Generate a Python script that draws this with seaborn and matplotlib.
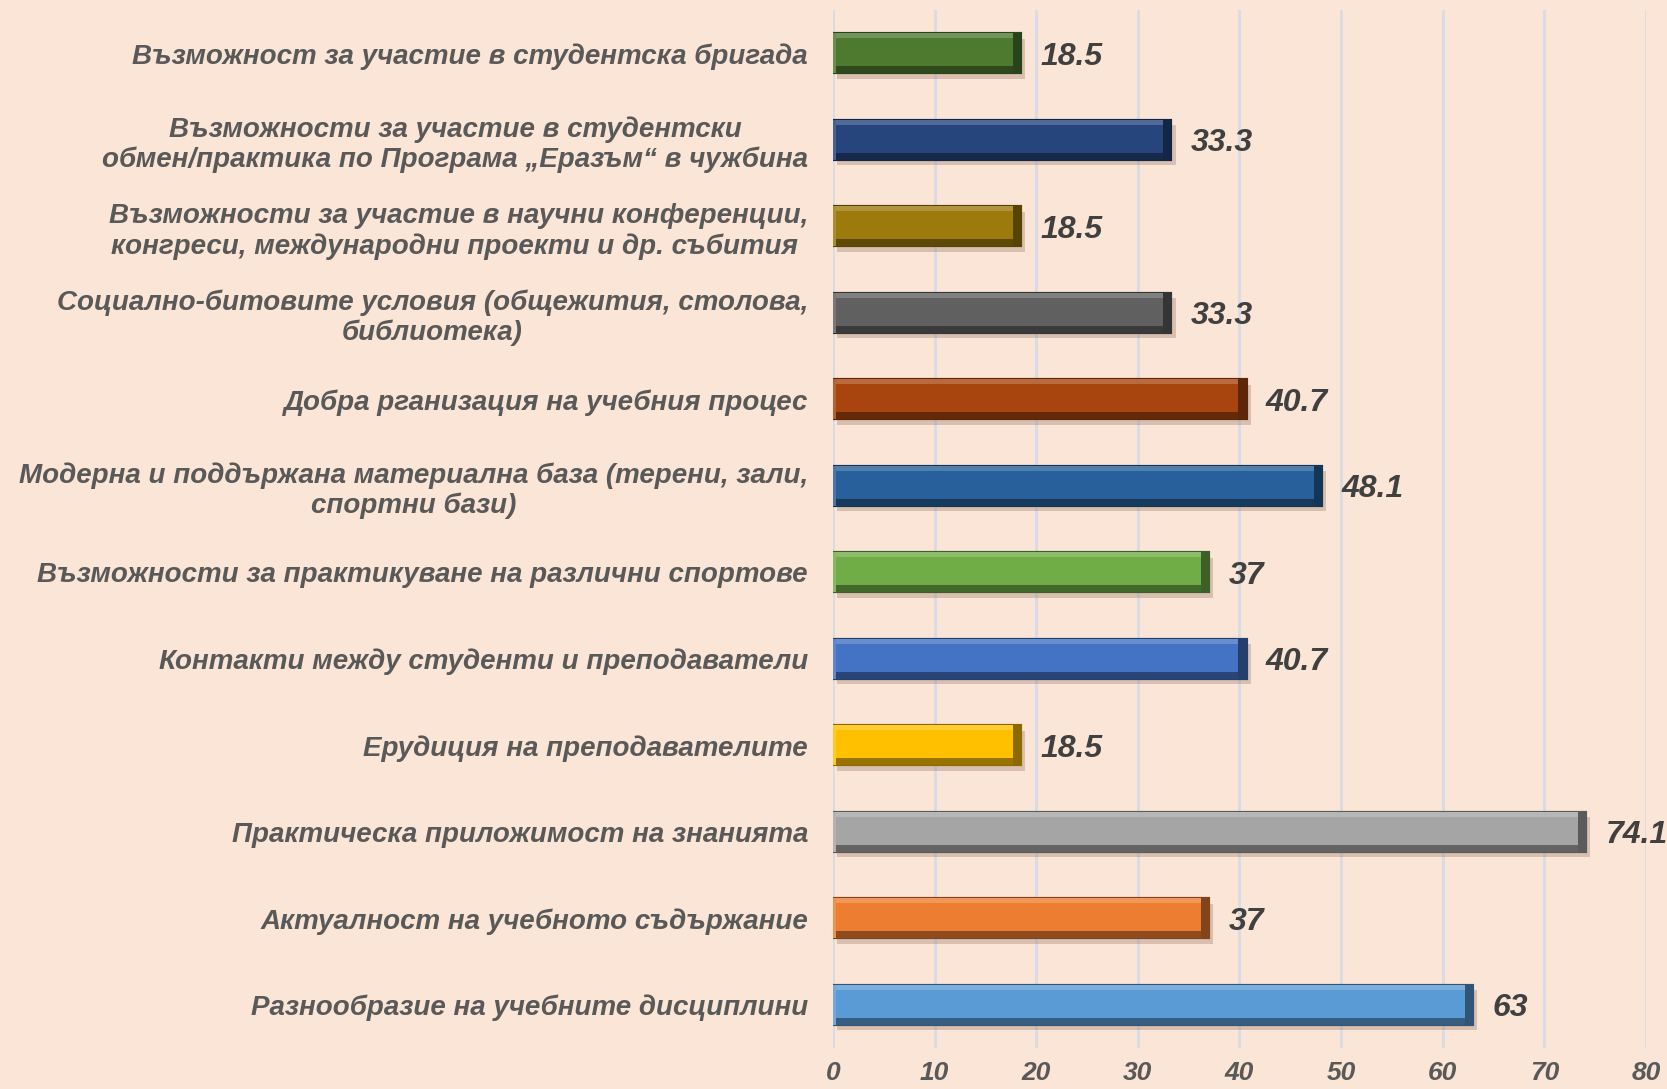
import seaborn as sns
import matplotlib.pyplot as plt
from matplotlib.patches import Rectangle
from matplotlib import patheffects
import matplotlib.colors as mcolors

categories = [
    "Възможност за участие в студентска бригада",
    "Възможности за участие в студентски\nобмен/практика по Програма „Еразъм“ в чужбина",
    "Възможности за участие в научни конференции,\nконгреси, международни проекти и др. събития ",
    "Социално-битовите условия (общежития, столова,\nбиблиотека)",
    "Добра рганизация на учебния процес",
    "Модерна и поддържана материална база (терени, зали,\nспортни бази)",
    "Възможности за практикуване на различни спортове",
    "Контакти между студенти и преподаватели",
    "Ерудиция на преподавателите",
    "Практическа приложимост на знанията",
    "Актуалност на учебното съдържание",
    "Разнообразие на учебните дисциплини",
]
values = [18.5, 33.3, 18.5, 33.3, 40.7, 48.1, 37, 40.7, 18.5, 74.1, 37, 63]
value_labels = ["18.5", "33.3", "18.5", "33.3", "40.7", "48.1", "37", "40.7", "18.5", "74.1", "37", "63"]
bar_colors = ["#4E7A30", "#27457D", "#9C7A0B", "#606060", "#A8450E", "#27609A",
              "#70AD47", "#4472C4", "#FFC000", "#A5A5A5", "#ED7D31", "#5B9BD5"]
x_ticks = [0, 10, 20, 30, 40, 50, 60, 70, 80]

BG = "#FBE5D6"


def shade(color, f):
    r, g, b = mcolors.to_rgb(color)
    if f < 1:
        return (r * f, g * f, b * f)
    t = f - 1
    return (r + (1 - r) * t, g + (1 - g) * t, b + (1 - b) * t)


def main():
    sns.set_style("white")
    plt.rcParams['font.family'] = ['Liberation Sans', 'DejaVu Sans']

    fig = plt.figure(figsize=(16.67, 10.89), dpi=100, facecolor=BG)
    ax = fig.add_axes([0.4997, 0.0376, 0.4877, 0.9532])
    ax.set_facecolor(BG)

    sns.barplot(x=values, y=categories, hue=categories, palette=bar_colors,
                legend=False, orient="h", width=0.46, dodge=False, saturation=1,
                linewidth=0, ax=ax, zorder=3)

    # bevel look: dark outline, light top strip, dark bottom strip, shadow
    for bar, col, lab in zip(ax.patches, bar_colors, value_labels):
        x0, y0 = bar.get_x(), bar.get_y()
        w, h = bar.get_width(), bar.get_height()
        bar.set_edgecolor(shade(col, 0.55))
        bar.set_linewidth(1.5)
        bar.set_path_effects([patheffects.withSimplePatchShadow(
            offset=(3, -4), shadow_rgbFace="#8a6a55", alpha=0.3),
            patheffects.Normal()])
        # inverted y axis: y0 is the visual top of the bar
        ax.add_patch(Rectangle((x0, y0), w, h * 0.12, facecolor=shade(col, 1.2),
                               edgecolor="none", zorder=4))
        ax.add_patch(Rectangle((x0, y0 + h * 0.82), w, h * 0.18,
                               facecolor=shade(col, 0.6), edgecolor="none", zorder=4))
        ax.add_patch(Rectangle((x0 + w - 0.8, y0), 0.8, h,
                               facecolor=shade(col, 0.55), edgecolor="none", zorder=4))
        ax.add_patch(Rectangle((x0, y0), 0.3, h,
                               facecolor=shade(col, 1.15), edgecolor="none", zorder=4))
        ax.text(x0 + w + 1.9, y0 + h / 2, lab, ha="left", va="center_baseline",
                fontsize=23, fontweight="bold", fontstyle="italic",
                color="#404040", clip_on=False, zorder=5)

    ax.set_xlim(0, 80)
    ax.set_xticks(x_ticks)
    ax.set_xticklabels([str(t) for t in x_ticks], fontsize=19, fontstyle="italic",
                       fontweight="bold", color="#595959",
                       family=['Liberation Sans Narrow', 'Liberation Sans'])
    ax.set_xlabel("")
    ax.set_ylabel("")
    ax.tick_params(axis="x", length=0, pad=9)
    ax.tick_params(axis="y", length=0, pad=18)
    for lbl in ax.get_yticklabels():
        lbl.set_fontsize(20)
        lbl.set_fontweight("bold")
        lbl.set_fontstyle("italic")
        lbl.set_color("#595959")
        lbl.set_multialignment("center")

    ax.grid(axis="x", color="#D6DCE4", linewidth=2, zorder=0)
    ax.grid(axis="y", visible=False)
    for s in ax.spines.values():
        s.set_visible(False)

    fig.savefig("out.png", dpi=100, facecolor=BG)


if __name__ == "__main__":
    main()
